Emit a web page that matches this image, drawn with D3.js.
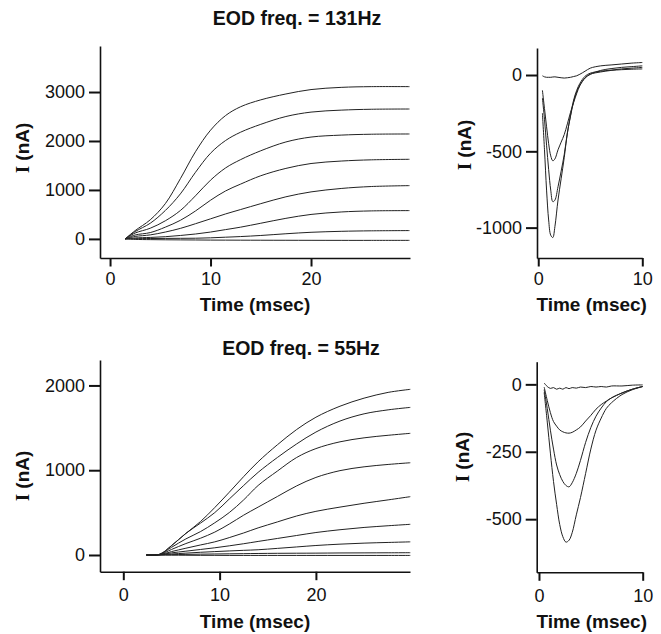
<!DOCTYPE html>
<html>
<head>
<meta charset="utf-8">
<script src="https://cdn.jsdelivr.net/npm/d3@7"></script>
<style>
  body { margin: 0; background: #fff; }
  text { font-family: "Liberation Sans", Arial, sans-serif; fill: #111; }
</style>
</head>
<body>
<div id="chart"></div>
<script>
// ---- 131 Hz, outward currents (nA) ----
const timeA = [1.5, 2.5, 4, 5.5, 7, 8.5, 10, 11.5, 13, 15, 17.5, 20, 23, 26, 29.8];
const outA = [
  [0, 170, 390, 720, 1230, 1780, 2220, 2520, 2700, 2840, 2960, 3050, 3095, 3110, 3110],
  [0, 150, 320, 580, 920, 1360, 1750, 2010, 2180, 2340, 2500, 2590, 2630, 2648, 2653],
  [0, 120, 218, 370, 580, 880, 1200, 1450, 1620, 1800, 1980, 2080, 2120, 2138, 2143],
  [0, 80, 129, 240, 380, 570, 790, 980, 1120, 1290, 1440, 1540, 1590, 1615, 1626],
  [0, 50, 82, 140, 215, 310, 410, 510, 600, 720, 860, 960, 1030, 1070, 1088],
  [0, 20, 30, 45, 70, 100, 140, 190, 240, 320, 420, 500, 550, 572, 578],
  [0, 5, 8, 10, 12, 14, 22, 35, 48, 70, 105, 135, 155, 165, 170],
  [0, -10, -15, -18, -20, -22, -24, -25, -26, -27, -28, -29, -30, -30, -30]
];

// ---- 131 Hz, inward currents (nA) ----
const timeB = [0.4, 0.6, 0.8, 1.0, 1.2, 1.4, 1.6, 1.9, 2.2, 2.5, 2.8, 3.1, 3.4, 3.7, 4.0, 4.5, 5, 6, 7, 8, 9, 10];
const inB = [
  [-5, -12, -15, -15, -15, -13, -12, -15, -18, -20, -18, -15, -10, -5, 5, 25, 45, 60, 66, 72, 78, 82],
  [-100, -220, -339, -450, -530, -562, -550, -490, -440, -390, -320, -245, -180, -120, -70, -20, 5, 30, 42, 50, 55, 60],
  [-150, -290, -460, -620, -754, -830, -820, -732, -630, -520, -380, -265, -164, -100, -55, -8, 12, 25, 32, 40, 45, 50],
  [-250, -490, -754, -950, -1050, -1065, -994, -819, -680, -540, -380, -270, -175, -110, -66, -18, 5, 20, 30, 35, 38, 40]
];

// ---- 55 Hz, outward currents (nA) ----
const timeC = [2.4, 3.8, 5, 6.5, 8, 9.5, 11, 12.5, 14, 16, 18, 20, 22.5, 25, 27.5, 29.8];
const outC = [
  [0, 10, 110, 255, 393, 560, 740, 925, 1100, 1300, 1480, 1625, 1755, 1850, 1918, 1954],
  [0, 10, 110, 255, 375, 500, 660, 820, 975, 1150, 1310, 1450, 1580, 1665, 1712, 1741],
  [0, 8, 90, 190, 275, 380, 500, 650, 820, 990, 1150, 1255, 1335, 1382, 1412, 1435],
  [0, 6, 65, 135, 197, 270, 365, 470, 565, 690, 815, 915, 995, 1040, 1068, 1088],
  [0, 4, 40, 80, 118, 155, 205, 260, 320, 390, 460, 515, 565, 610, 650, 688],
  [0, 3, 25, 45, 65, 85, 108, 133, 160, 195, 230, 265, 298, 325, 345, 362],
  [0, 2, 12, 22, 32, 40, 48, 55, 62, 78, 95, 112, 128, 140, 148, 155],
  [0, 0, 4, 7, 10, 12, 14, 16, 18, 20, 21, 22, 24, 25, 26, 27],
  [0, 0, -2, -3, -4, -4, -5, -5, -5, -5, -5, -5, -5, -5, -5, -5]
];

// ---- 55 Hz, inward currents (nA) ----
const timeD = [0.5, 0.8, 1.1, 1.4, 1.7, 2.0, 2.3, 2.6, 2.9, 3.2, 3.6, 4.0, 4.5, 5.0, 5.5, 6.0, 6.5, 7.0, 8.0, 9.0, 10.0];
const inD = [
  [5, -8, -15, -12, -18, -14, -18, -12, -16, -12, -14, -10, -12, -8, -10, -8, -10, -6, -6, -3, -2],
  [-10, -60, -105, -138, -155, -169, -176, -180, -181, -178, -169, -158, -136, -115, -92, -75, -62, -50, -32, -18, -8],
  [-20, -90, -170, -240, -299, -335, -360, -375, -380, -365, -330, -282, -215, -160, -118, -88, -64, -50, -32, -18, -8],
  [-30, -140, -255, -360, -445, -520, -565, -585, -578, -550, -484, -420, -330, -240, -170, -125, -89, -68, -38, -20, -8]
];

const titles = ['EOD freq. = 131Hz', 'EOD freq. = 55Hz'];

const svg = d3.select('#chart').append('svg')
  .attr('width', 661).attr('height', 634);

function panel(o) {
  const x = d3.scaleLinear().domain(o.xd).range(o.xr);
  const y = d3.scaleLinear().domain(o.yd).range(o.yr);
  const g = svg.append('g');

  const line = d3.line()
    .x((d, i) => x(o.t[i]))
    .y(d => y(d))
    .curve(d3.curveCatmullRom.alpha(0.5));

  g.selectAll('path.trace')
    .data(o.series)
    .enter()
    .append('path')
    .attr('class', 'trace')
    .attr('d', line)
    .attr('fill', 'none')
    .attr('stroke', '#222')
    .attr('stroke-width', 1);

  // plain hyphen for negatives, like the original
  const fmt = d => String(d);

  const ya = g.append('g')
    .attr('transform', `translate(${o.xr[0]},0)`)
    .call(d3.axisLeft(y).tickValues(o.yt).tickSize(11).tickSizeOuter(0).tickPadding(4).tickFormat(fmt));
  const xa = g.append('g')
    .attr('transform', `translate(0,${o.yr[0]})`)
    .call(d3.axisBottom(x).tickValues(o.xt).tickSize(8.5).tickSizeOuter(0).tickPadding(o.xpad).tickFormat(fmt));

  [ya, xa].forEach(a => {
    a.select('.domain').attr('stroke', '#111').attr('stroke-width', 1.6);
    a.selectAll('.tick line').attr('stroke', '#111').attr('stroke-width', 2);
    a.selectAll('.tick text').style('font-size', '18px').attr('fill', '#111')
      .style('font-family', '"Liberation Sans", Arial, sans-serif');
  });

  g.append('text')
    .attr('x', (o.xr[0] + o.xr[1]) / 2 + o.xlOff)
    .attr('y', o.xlY)
    .attr('text-anchor', 'middle')
    .style('font-size', '19px').style('font-weight', 'bold')
    .text('Time (msec)');

  const yl = g.append('text')
    .attr('transform', `translate(${o.ylX},${o.ylY}) rotate(-90)`)
    .attr('text-anchor', 'middle')
    .style('font-size', '19px').style('font-weight', 'bold');
  yl.append('tspan').style('font-family', '"Liberation Serif", serif').text('I');
  yl.append('tspan').text(' (nA)');
}

panel({ t: timeA, series: outA, xd: [-1.0, 29.85], xr: [100, 410], yd: [-390, 3940], yr: [258, 46],
  xt: [0, 10, 20], yt: [0, 1000, 2000, 3000], xpad: 5.5, xlOff: 0, xlY: 311, ylX: 29, ylY: 148 });
panel({ t: timeB, series: inB, xd: [-0.12, 10], xr: [537, 642.3], yd: [-1199, 177], yr: [258, 48],
  xt: [0, 10], yt: [-1000, -500, 0], xpad: 5.5, xlOff: 2, xlY: 311, ylX: 471, ylY: 145 });
panel({ t: timeC, series: outC, xd: [-2.42, 29.77], xr: [100, 410], yd: [-197, 2300], yr: [571.7, 360],
  xt: [0, 10, 20], yt: [0, 1000, 2000], xpad: 8, xlOff: 0, xlY: 628, ylX: 29, ylY: 476 });
panel({ t: timeD, series: inD, xd: [-0.22, 10], xr: [536.7, 642.7], yd: [-697, 84], yr: [572.3, 361.7],
  xt: [0, 10], yt: [-500, -250, 0], xpad: 8, xlOff: 2, xlY: 628, ylX: 469, ylY: 457 });

svg.selectAll('text.title')
  .data(titles)
  .enter()
  .append('text')
  .attr('class', 'title')
  .attr('x', (d, i) => i === 0 ? 297 : 301)
  .attr('y', (d, i) => i === 0 ? 25 : 355)
  .attr('text-anchor', 'middle')
  .style('font-size', '19.5px').style('font-weight', 'bold')
  .text(d => d);
</script>
</body>
</html>
